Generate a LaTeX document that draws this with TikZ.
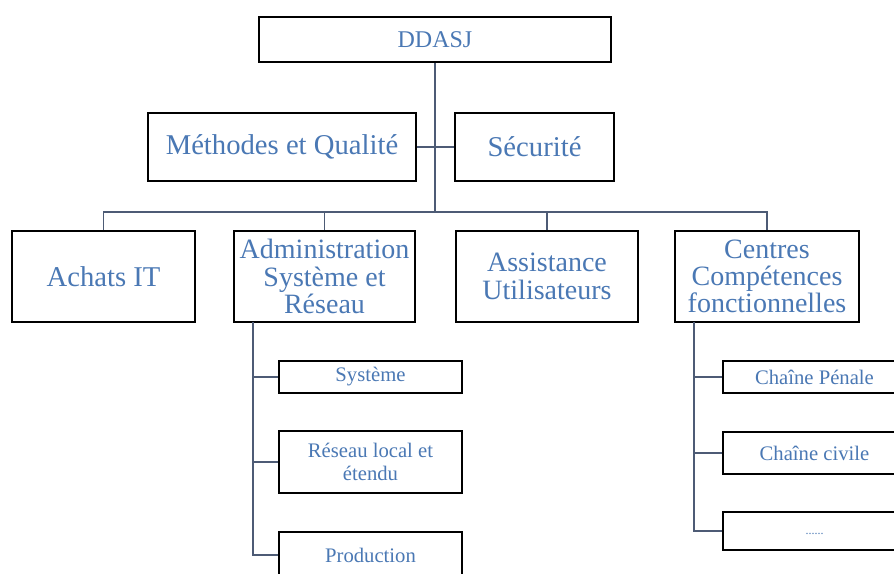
\documentclass[tikz,border=0pt]{standalone}
\usepackage{fontspec}
\setmainfont{Liberation Serif}
\definecolor{txtblue}{HTML}{4A78B4}
\definecolor{connc}{HTML}{4D5B75}
\tikzset{
  box/.style={draw=black, line width=1.3pt, fill=white, rectangle, inner sep=0pt,
    text=txtblue, align=center},
  lvl/.style={font=\fontsize{21pt}{20.5pt}\selectfont},
  sub/.style={font=\fontsize{15.5pt}{17.5pt}\selectfont},
  conn/.style={draw=connc, line width=1.1pt},
}
\begin{document}
\begin{tikzpicture}[x=0.75pt,y=-0.75pt]
\useasboundingbox (0,0) rectangle (894,574);
\fill[white] (0,0) rectangle (894,574);

% boxes
\node[box, minimum width=264pt, minimum height=33.75pt, font=\fontsize{18pt}{20pt}\selectfont] (ddasj) at (435,39.5) {DDASJ};
\node[box, lvl, font=\fontsize{21.5pt}{21pt}\selectfont, minimum width=201pt, minimum height=51pt] (meth) at (282,147) {Méthodes et Qualité};
\node[box, lvl, font=\fontsize{21.5pt}{21pt}\selectfont, minimum width=119.25pt, minimum height=51pt] (secu) at (534.5,147) {Sécurité};

\node[box, lvl, font=\fontsize{21.5pt}{21pt}\selectfont, minimum width=137.25pt, minimum height=68.25pt] (achats) at (103.5,276.5) {Achats IT};
\node[box, lvl, minimum width=135.75pt, minimum height=68.25pt] (admin) at (324.5,276.5) {Administration\\Système et\\Réseau};
\node[box, lvl, minimum width=136.5pt, minimum height=68.25pt] (assist) at (547,276.5) {Assistance\\Utilisateurs};
\node[box, lvl, minimum width=138pt, minimum height=68.25pt] (centres) at (767,276.5) {Centres\\Compétences\\fonctionnelles};

\node[box, sub, minimum width=137.25pt, minimum height=24pt] (systeme) at (370.5,377) {Système};
\node[box, sub, minimum width=137.25pt, minimum height=46.5pt] (reseau) at (370.5,462) {Réseau local et\\étendu};
\node[box, sub, minimum width=137.25pt, minimum height=34.5pt] (prod) at (370.5,555) {Production};

\node[box, sub, minimum width=137.25pt, minimum height=24pt] (penale) at (814.5,377) {Chaîne Pénale};
\node[box, sub, minimum width=137.25pt, minimum height=31.5pt] (civile) at (814.5,453) {Chaîne civile};
\node[box, font=\fontsize{9pt}{10pt}\selectfont, minimum width=137.25pt, minimum height=28.5pt] (dots) at (814.5,531) {\raisebox{-5pt}{......}};

% connectors
\coordinate (bus) at (435,212);
\draw[conn] (ddasj.south) -- (bus);
\draw[conn] (meth.east) -- (secu.west);
\draw[conn] (achats.north) |- (bus) -| (centres.north);
\draw[conn] (admin.north) -- (admin.north |- bus);
\draw[conn] (assist.north) -- (assist.north |- bus);

\coordinate (atop) at (253,322);
\draw[conn] (atop) |- (prod.west);
\draw[conn] (atop |- systeme.west) -- (systeme.west);
\draw[conn] (atop |- reseau.west) -- (reseau.west);

\coordinate (ctop) at (694,322);
\draw[conn] (ctop) |- (dots.west);
\draw[conn] (ctop |- penale.west) -- (penale.west);
\draw[conn] (ctop |- civile.west) -- (civile.west);
\end{tikzpicture}
\end{document}
